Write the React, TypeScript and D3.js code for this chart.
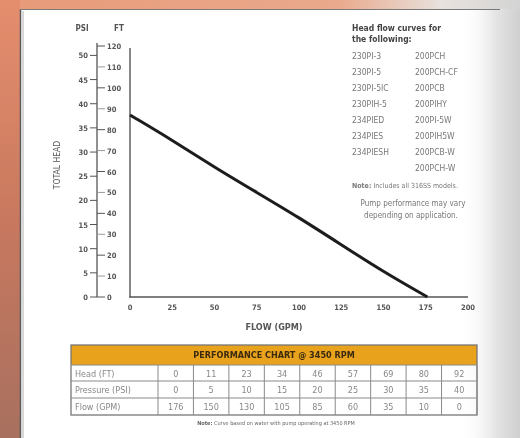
import React from "react";
import * as d3 from "d3";

const curveFlow = [0, 25, 50, 75, 100, 125, 150, 176];
const curveHead = [87, 75, 62, 50, 38, 25, 12, 0];

const ftTicks = [0, 10, 20, 30, 40, 50, 60, 70, 80, 90, 100, 110, 120];
const psiTicks = [0, 5, 10, 15, 20, 25, 30, 35, 40, 45, 50];
const flowTicks = [0, 25, 50, 75, 100, 125, 150, 175, 200];

const modelsCol1 = ["230PI-3", "230PI-5", "230PI-5IC", "230PIH-5", "234PIED", "234PIES", "234PIESH"];
const modelsCol2 = ["200PCH", "200PCH-CF", "200PCB", "200PIHY", "200PI-5W", "200PIH5W", "200PCB-W", "200PCH-W"];

const tableRowLabels = ["Head (FT)", "Pressure (PSI)", "Flow (GPM)"];
const tableHead = ["0", "11", "23", "34", "46", "57", "69", "80", "92"];
const tablePressure = ["0", "5", "10", "15", "20", "25", "30", "35", "40"];
const tableFlow = ["176", "150", "130", "105", "85", "60", "35", "10", "0"];

const FONT = "'Liberation Sans Narrow', 'DejaVu Sans Condensed', 'Liberation Sans', sans-serif";

export default function App() {
  const x = d3.scaleLinear().domain([0, 200]).range([130, 468]);
  const yFt = d3.scaleLinear().domain([0, 120]).range([297, 46]);
  const yPsi = d3.scaleLinear().domain([0, 120 / 2.31]).range([297, 46]);
  const pts = curveFlow.map((f, i) => [f, curveHead[i]] as [number, number]);
  const line = d3
    .line<[number, number]>()
    .x((d) => x(d[0]))
    .y((d) => yFt(d[1]))
    .curve(d3.curveBasis);

  const axisX = 97;
  const tx0 = 71, tx1 = 477, firstColW = 87;
  const colX = d3.scaleLinear().domain([0, 9]).range([tx0 + firstColW, tx1]);
  const rowsY = [345, 365, 381, 398, 415];
  const rows = [tableHead, tablePressure, tableFlow];

  return (
    <svg width={520} height={438} style={{ position: "absolute", left: 0, top: 0 }} fontFamily={FONT}>
      <defs>
        <linearGradient id="leftBg" x1="0" y1="0" x2="0" y2="1">
          <stop offset="0" stopColor="#e58e6e" />
          <stop offset="0.5" stopColor="#c8785e" />
          <stop offset="1" stopColor="#a8705e" />
        </linearGradient>
        <linearGradient id="topBg" x1="0" y1="0" x2="1" y2="0">
          <stop offset="0" stopColor="#e79a78" />
          <stop offset="0.65" stopColor="#eaa98c" />
          <stop offset="0.85" stopColor="#e8e2de" />
          <stop offset="1" stopColor="#d4d4d4" />
        </linearGradient>
        <linearGradient id="rightBg" x1="0" y1="0" x2="1" y2="0">
          <stop offset="0" stopColor="#ffffff" stopOpacity="0" />
          <stop offset="0.6" stopColor="#e4e4e4" stopOpacity="1" />
          <stop offset="1" stopColor="#cfcfcf" stopOpacity="1" />
        </linearGradient>
        <filter id="soft" x="0" y="0" width="1" height="1">
          <feGaussianBlur stdDeviation="0.45" />
        </filter>
      </defs>
      <g filter="url(#soft)">
        <rect x={0} y={0} width={520} height={438} fill="#ffffff" />
        <rect x={0} y={0} width={520} height={9} fill="url(#topBg)" />
        <rect x={0} y={0} width={20} height={438} fill="url(#leftBg)" />
        <rect x={460} y={9} width={60} height={429} fill="url(#rightBg)" />
        <line x1={20.5} y1={9} x2={20.5} y2={438} stroke="#5a5a5a" strokeWidth={1.5} />
        <line x1={23} y1={11} x2={23} y2={438} stroke="#b0b0b0" strokeWidth={1} />
        <line x1={20} y1={9.5} x2={500} y2={9.5} stroke="#7a7a7a" strokeWidth={1.2} />

        {/* PSI / FT axis */}
        <text x={82} y={31} fontSize={8} fontWeight="bold" fill="#555" textAnchor="middle">PSI</text>
        <text x={119} y={31} fontSize={8} fontWeight="bold" fill="#555" textAnchor="middle">FT</text>
        <line x1={axisX} y1={43} x2={axisX} y2={297} stroke="#555" strokeWidth={1.3} />
        {psiTicks.map((p) => (
          <g key={"p" + p}>
            <line x1={axisX - 7} x2={axisX} y1={yPsi(p)} y2={yPsi(p)} stroke="#555" strokeWidth={1} />
            <text x={axisX - 9} y={yPsi(p) + 3} fontSize={7.5} fontWeight="bold" fill="#555" textAnchor="end">{p}</text>
          </g>
        ))}
        {ftTicks.map((f) => (
          <g key={"f" + f}>
            <line x1={axisX} x2={axisX + 8} y1={yFt(f)} y2={yFt(f)} stroke={f % 20 === 0 ? "#555" : "#999"} strokeWidth={1} />
            <text x={axisX + 10} y={yFt(f) + 3} fontSize={7.5} fontWeight="bold" fill="#555">{f}</text>
          </g>
        ))}
        <text transform="translate(60,165) rotate(-90)" fontSize={8.5} fill="#555" textAnchor="middle">TOTAL HEAD</text>

        {/* Plot axes */}
        <line x1={130} y1={48} x2={130} y2={297.5} stroke="#555" strokeWidth={1.4} />
        <line x1={129.3} y1={297} x2={x(200)} y2={297} stroke="#555" strokeWidth={1.4} />
        {flowTicks.map((f) => (
          <text key={"x" + f} x={x(f)} y={310} fontSize={7.5} fontWeight="bold" fill="#555" textAnchor="middle">{f}</text>
        ))}
        <text x={274} y={330} fontSize={9} fontWeight="bold" fill="#555" textAnchor="middle">FLOW (GPM)</text>

        <path d={line(pts) || ""} fill="none" stroke="#1e1e1e" strokeWidth={3} />

        {/* Legend text */}
        <text x={352} y={31} fontSize={8.5} fontWeight="bold" fill="#444">Head flow curves for</text>
        <text x={352} y={42} fontSize={8.5} fontWeight="bold" fill="#444">the following:</text>
        {modelsCol1.map((m, i) => (
          <text key={m} x={352} y={59 + i * 16} fontSize={8.5} fill="#777">{m}</text>
        ))}
        {modelsCol2.map((m, i) => (
          <text key={m} x={415} y={59 + i * 16} fontSize={8.5} fill="#777">{m}</text>
        ))}
        <text x={352} y={188} fontSize={7} fill="#777"><tspan fontWeight="bold">Note:</tspan> Includes all 316SS models.</text>
        <text x={413} y={206} fontSize={8} fill="#777" textAnchor="middle">Pump performance may vary</text>
        <text x={411} y={218} fontSize={8} fill="#777" textAnchor="middle">depending on application.</text>

        {/* Table */}
        <rect x={tx0} y={rowsY[0]} width={tx1 - tx0} height={rowsY[1] - rowsY[0]} fill="#e8a21c" />
        <text x={(tx0 + tx1) / 2} y={358} fontSize={9} fontWeight="bold" fill="#3a2a10" textAnchor="middle">PERFORMANCE CHART @ 3450 RPM</text>
        <rect x={tx0} y={rowsY[0]} width={tx1 - tx0} height={rowsY[4] - rowsY[0]} fill="none" stroke="#777" strokeWidth={1.3} />
        {[1, 2, 3].map((r) => (
          <line key={"r" + r} x1={tx0} x2={tx1} y1={rowsY[r]} y2={rowsY[r]} stroke="#8a8a8a" strokeWidth={1} />
        ))}
        {d3.range(10).map((c) => (
          <line key={"c" + c} x1={colX(c)} x2={colX(c)} y1={rowsY[1]} y2={rowsY[4]} stroke="#8a8a8a" strokeWidth={1} />
        ))}
        {tableRowLabels.map((lab, r) => (
          <text key={lab} x={tx0 + 4} y={rowsY[r + 1] + 12} fontSize={9} fill="#888">{lab}</text>
        ))}
        {rows.map((row, r) =>
          row.map((v, c) => (
            <text key={r + "-" + c} x={(colX(c) + colX(c + 1)) / 2} y={rowsY[r + 1] + 12} fontSize={9} fill="#888" textAnchor="middle">{v}</text>
          ))
        )}
        <text x={276} y={425} fontSize={5.5} fill="#666" textAnchor="middle"><tspan fontWeight="bold">Note:</tspan> Curve based on water with pump operating at 3450 RPM</text>
      </g>
    </svg>
  );
}
